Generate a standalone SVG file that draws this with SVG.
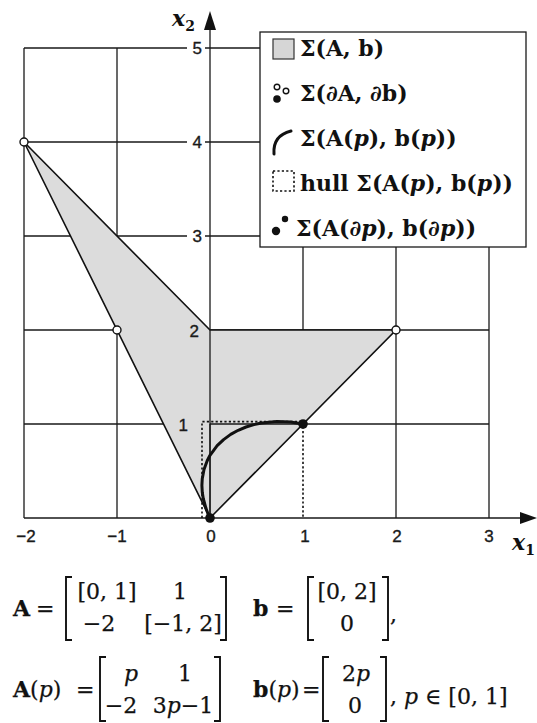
<svg xmlns="http://www.w3.org/2000/svg" width="537" height="723" viewBox="0 0 537 723">
<style>
.grid{stroke:#1a1a1a;stroke-width:1.3;fill:none}
.edge{stroke:#111;stroke-width:1.6;fill:none;stroke-linejoin:miter}
.tick{font-family:"Liberation Sans",Arial,sans-serif;font-size:17px;fill:#1a1a1a;stroke:#1a1a1a;stroke-width:0.35}
.lab{font-family:"DejaVu Serif","Liberation Serif",serif;font-size:22px;font-weight:bold;fill:#111}
.fm{font-family:"DejaVu Serif","Liberation Serif",serif;font-size:22px;fill:#111;stroke:#111;stroke-width:0.25}
.ax{font-family:"DejaVu Serif","Liberation Serif",serif;font-size:22px;font-style:italic;font-weight:bold;fill:#111}
.b{font-weight:bold}
.i{font-style:italic}
.br{stroke:#111;stroke-width:1.9;fill:none}
.hollow{fill:#fff;stroke:#111;stroke-width:1.4}
.solid{fill:#111}
.shade{fill:#dcdcdc}
</style>
<rect width="537" height="723" fill="#fff"/>
<g id="grid">
<path class="grid" d="M24 518V48M117 518V48M303 424V48M396 518V48M489 518V48"/>
<path class="grid" d="M24 424H489M24 330H489M24 236H489M24 142H489M24 48H489"/>
</g>
<g id="sigma-region">
<polygon class="shade" points="24,142 210,330 396,330 210,518"/>
<path class="grid" d="M210 424V518M210 424H303"/>
<polygon class="edge" points="24,142 210,330 396,330 210,518"/>
</g>
<g id="axes">
<path class="grid" d="M24 518H522M210 518V330M210 330V26"/>
<polygon points="537,518 520,512 520,524" fill="#111"/>
<polygon points="210,11 204,30 216,30" fill="#111"/>
<text x="172" y="26" class="ax">x<tspan font-size="14" dy="5" font-style="normal">2</tspan></text>
<text x="512" y="550" class="ax">x<tspan font-size="14" dy="5" font-style="normal">1</tspan></text>
</g>
<g id="ticks">
<rect x="187" y="39" width="18" height="18" fill="#fff"/>
<rect x="187" y="133" width="18" height="18" fill="#fff"/>
<rect x="187" y="227" width="18" height="18" fill="#fff"/>
<text class="tick" x="202" y="54" text-anchor="end">5</text>
<text class="tick" x="202" y="148" text-anchor="end">4</text>
<text class="tick" x="202" y="242" text-anchor="end">3</text>
<text class="tick" x="199" y="337" text-anchor="end">2</text>
<text class="tick" x="188" y="431" text-anchor="end">1</text>
<text class="tick" x="26" y="542" text-anchor="middle">−2</text>
<text class="tick" x="117" y="542" text-anchor="middle">−1</text>
<text class="tick" x="211" y="542" text-anchor="middle">0</text>
<text class="tick" x="305" y="542" text-anchor="middle">1</text>
<text class="tick" x="397" y="542" text-anchor="middle">2</text>
<text class="tick" x="489" y="542" text-anchor="middle">3</text>
</g>
<g id="hull">
<path d="M202 518V421.6H303V518" fill="none" stroke="#111" stroke-width="1.6" stroke-dasharray="2.2 2.2"/>
</g>
<g id="curve">
<polyline fill="none" stroke="#111" stroke-width="3" stroke-linejoin="round" stroke-linecap="round" points="210,518 208.2,514.2 205.96,508.4 203.26,498.5 202.3,492.6 201.9,485.3 202.25,478.8 204,469.5 207.2,460.7 210,455.3 217.15,445.7 223.6,439.6 230.67,434.4 238.2,430.3 246,427 253.9,424.6 261.7,423 276.8,421.6 290.6,422.1 303,424"/>
</g>
<g id="points">
<circle class="hollow" cx="24" cy="142" r="4"/>
<circle class="hollow" cx="117" cy="330" r="4"/>
<circle class="hollow" cx="396" cy="330" r="4"/>
<circle class="solid" cx="210" cy="518" r="4.8"/>
<circle class="solid" cx="303" cy="424" r="4.8"/>
</g>
<g id="legend">
<rect x="260" y="32" width="266" height="215" fill="#fff" stroke="#1a1a1a" stroke-width="1.3"/>
<g id="leg-region">
<rect x="273" y="39" width="21" height="20" fill="#d6d6d6" stroke="#333" stroke-width="1.2"/>
<text class="lab" x="300" y="56">Σ(A, b)</text>
</g>
<g id="leg-vertices">
<circle class="hollow" cx="277" cy="87" r="2.8"/>
<circle class="hollow" cx="286" cy="91" r="2.8"/>
<circle class="solid" cx="277" cy="99" r="3.8"/>
<text class="lab" x="300" y="101">Σ(∂A, ∂b)</text>
</g>
<g id="leg-curve">
<path d="M274 154C273 141 279 134 291 131" fill="none" stroke="#111" stroke-width="3" stroke-linecap="round"/>
<text class="lab" x="300" y="146">Σ(A(<tspan class="i">p</tspan>), b(<tspan class="i">p</tspan>))</text>
</g>
<g id="leg-hull">
<rect x="273" y="171" width="21" height="20" fill="none" stroke="#111" stroke-width="1.6" stroke-dasharray="2.2 2.2"/>
<text class="lab" x="300" y="191">hull Σ(A(<tspan class="i">p</tspan>), b(<tspan class="i">p</tspan>))</text>
</g>
<g id="leg-endpoints">
<circle class="solid" cx="285" cy="219" r="3.2"/>
<circle class="solid" cx="276" cy="231" r="4.2"/>
<text class="lab" x="296" y="236">Σ(A(∂<tspan class="i">p</tspan>), b(∂<tspan class="i">p</tspan>))</text>
</g>
</g>
<g id="formula-interval">
<text class="fm b" x="13" y="616">A</text>
<text class="fm" x="36" y="616">=</text>
<path class="br" d="M72 577H66V640H72M220 577H226V640H220"/>
<text class="fm" x="107" y="599" text-anchor="middle">[0, 1]</text>
<text class="fm" x="180" y="599" text-anchor="middle">1</text>
<text class="fm" x="99" y="631" text-anchor="middle">−2</text>
<text class="fm" x="183" y="631" text-anchor="middle">[−1, 2]</text>
<text class="fm b" x="253" y="616">b</text>
<text class="fm" x="276" y="616">=</text>
<path class="br" d="M314 577H308V640H314M382 577H388V640H382"/>
<text class="fm" x="347" y="599" text-anchor="middle">[0, 2]</text>
<text class="fm" x="347" y="631" text-anchor="middle">0</text>
<text class="fm" x="390" y="622">,</text>
</g>
<g id="formula-param">
<text class="fm" x="13" y="697"><tspan class="b">A</tspan>(<tspan class="i">p</tspan>)</text>
<text class="fm" x="76" y="697">=</text>
<path class="br" d="M106 657H100V721H106M214 657H220V721H214"/>
<text class="fm i" x="131" y="681" text-anchor="middle">p</text>
<text class="fm" x="185" y="681" text-anchor="middle">1</text>
<text class="fm" x="121" y="713" text-anchor="middle">−2</text>
<text class="fm" x="183" y="713" text-anchor="middle">3<tspan class="i">p</tspan>−1</text>
<text class="fm" x="253" y="697"><tspan class="b">b</tspan>(<tspan class="i">p</tspan>)</text>
<text class="fm" x="302" y="697">=</text>
<path class="br" d="M329 657H323V721H329M380 657H386V721H380"/>
<text class="fm" x="356" y="681" text-anchor="middle">2<tspan class="i">p</tspan></text>
<text class="fm" x="355" y="713" text-anchor="middle">0</text>
<text class="fm" x="390" y="704">, <tspan class="i">p</tspan> ∈ [0, 1]</text>
</g>
</svg>
